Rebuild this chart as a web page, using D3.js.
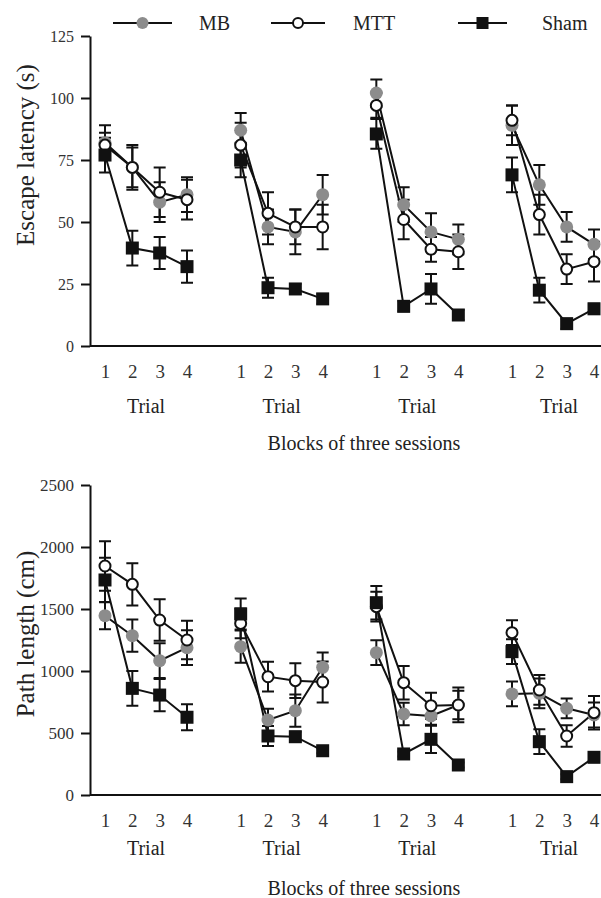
<!DOCTYPE html>
<html>
<head>
<meta charset="utf-8">
<script src="https://cdn.jsdelivr.net/npm/d3@7"></script>
<style>
    body { margin: 0; background: #fff; }
    svg { display: block; }
    svg text { font-family: "Liberation Serif", "Times New Roman", serif; }
    .axis path, .axis line { stroke: #111; stroke-width: 2; }
    .axis text { fill: #333; }
    .conn { fill: none; stroke: #111; stroke-width: 2; }
    .err { stroke: #111; stroke-width: 2; fill: none; }
</style>
</head>
<body>
<svg id="chart" width="601" height="898"></svg>
<script>
(function() {
    'use strict';

    /******************************************************************
        data
     ******************************************************************/
    var blocks = [1, 2, 3, 4],
        trials = [1, 2, 3, 4],
        series = ['MB', 'MTT', 'Sham'],
        latencyTicks = [0, 25, 50, 75, 100, 125],
        pathTicks = [0, 500, 1000, 1500, 2000, 2500];

    var mbLatency      = [[82, 72, 58, 61], [87, 48, 46, 61], [102, 57, 46, 43], [89, 65, 48, 41]],
        mbLatencyErr   = [[7, 9, 8, 7], [7, 7, 9, 8], [5.5, 7, 7.5, 6], [8, 8, 6, 6]],
        mttLatency     = [[81, 72, 62, 59], [81, 53.5, 48, 48], [97, 51, 39, 38], [91, 53, 31, 34]],
        mttLatencyErr  = [[5, 8, 10, 8], [9, 8.5, 7, 9], [5, 8, 5, 7], [6, 8, 6, 8]],
        shamLatency    = [[77, 39.5, 37.5, 32], [75, 23.5, 23, 19], [85.5, 16, 23, 12.5], [69, 22.5, 9, 15]],
        shamLatencyErr = [[7, 7, 6.5, 6.5], [7, 4, 2, 2], [6, 2, 6, 2], [7, 5, 2, 2]];

    var mbPath      = [[1446, 1285, 1083, 1188], [1196, 605, 680, 1030], [1148, 653, 637, 726], [815, 820, 699, 645]],
        mbPathErr   = [[110, 130, 140, 140], [130, 90, 130, 120], [100, 90, 70, 140], [100, 120, 80, 100]],
        mttPath     = [[1847, 1699, 1411, 1250], [1384, 954, 922, 911], [1519, 906, 720, 726], [1309, 847, 476, 664]],
        mttPathErr  = [[200, 170, 167, 156], [120, 120, 140, 165], [120, 135, 105, 115], [100, 120, 86, 135]],
        shamPath    = [[1734, 860, 806, 627], [1460, 476, 470, 357], [1551, 331, 449, 242], [1156, 430, 148, 304]],
        shamPathErr = [[180, 140, 130, 105], [125, 80, 40, 20], [135, 20, 110, 20], [100, 100, 20, 20]];

    var svg = d3.select('#chart');
    var GRAY = '#8c8c8c',
        FONT = '"Liberation Serif", "Times New Roman", serif';

    // x position: block then trial inside the block
    var xBlock = d3.scalePoint().domain(blocks).range([105, 512]);
    var xTrial = d3.scalePoint().domain(trials).range([0, 82]);
    function xPos(b, t) { return xBlock(b) + xTrial(t); }

    function marker(sel, name, size) {
        if (name === 'Sham')
            sel.append('rect')
                .attr('x', -size).attr('y', -size)
                .attr('width', size * 2).attr('height', size * 2)
                .attr('fill', '#111');
        else
            sel.append('circle')
                .attr('r', name === 'MB' ? size : size - 1)
                .attr('fill', name === 'MB' ? GRAY : '#fff')
                .attr('stroke', name === 'MB' ? 'none' : '#111')
                .attr('stroke-width', 2);
    }

    /******************************************************************
        one panel
     ******************************************************************/
    function drawPanel(o) {
        var y = d3.scaleLinear().domain([0, o.ticks[o.ticks.length - 1]]).range([o.bottom, o.top]);
        var g = svg.append('g');

        // y axis
        g.append('g')
            .attr('class', 'axis')
            .attr('transform', 'translate(90,0)')
            .call(d3.axisLeft(y).tickValues(o.ticks).tickFormat(d3.format('d'))
                .tickSize(9).tickPadding(7).tickSizeOuter(0))
            .call(function(s) {
                s.attr('font-family', FONT);
                s.selectAll('text').style('font-size', o.tickFont + 'px');
            });

        // baseline
        g.append('line')
            .attr('x1', 90).attr('x2', 601)
            .attr('y1', y(0)).attr('y2', y(0))
            .attr('stroke', '#111').attr('stroke-width', 2);

        // trial labels under each block
        blocks.forEach(function(b) {
            g.append('g')
                .attr('class', 'axis')
                .attr('transform', 'translate(' + [xBlock(b), y(0)] + ')')
                .call(d3.axisBottom(xTrial).tickSize(0).tickPadding(19))
                .call(function(s) {
                    s.attr('font-family', FONT);
                    s.select('.domain').remove();
                    s.selectAll('text').style('font-size', '19px').attr('fill', '#222');
                });

            g.append('text')
                .attr('x', xBlock(b) + 41 + (b === 4 ? 6 : 0))
                .attr('y', y(0) + o.trialDy)
                .attr('text-anchor', 'middle')
                .style('font-size', '20px')
                .attr('fill', '#222')
                .text('Trial');
        });

        g.append('text')
            .attr('x', 364)
            .attr('y', y(0) + o.blocksDy)
            .attr('text-anchor', 'middle')
            .style('font-size', '20px')
            .attr('fill', '#222')
            .text('Blocks of three sessions');

        g.append('text')
            .attr('transform', 'translate(' + [25, o.labelY] + ') rotate(-90)')
            .attr('dy', '0.35em')
            .attr('text-anchor', 'middle')
            .style('font-size', '25px')
            .attr('fill', '#222')
            .text(o.label);

        var line = d3.line()
            .x(function(d) { return d.x; })
            .y(function(d) { return y(d.v); });

        // connecting lines
        o.data.forEach(function(s) {
            blocks.forEach(function(b, bi) {
                var pts = trials.map(function(t, ti) {
                    return { x: xPos(b, t), v: s.values[bi][ti] };
                });
                g.append('path').attr('class', 'conn').attr('d', line(pts));
            });
        });

        // error bars
        o.data.forEach(function(s) {
            blocks.forEach(function(b, bi) {
                trials.forEach(function(t, ti) {
                    var v = s.values[bi][ti], e = s.err[bi][ti], x = xPos(b, t);
                    var hi = y(v + e), lo = y(Math.max(0, v - e));
                    g.append('path')
                        .attr('class', 'err')
                        .attr('d', 'M' + x + ',' + hi + 'V' + lo +
                            'M' + (x - 6) + ',' + hi + 'H' + (x + 6) +
                            'M' + (x - 6) + ',' + lo + 'H' + (x + 6));
                });
            });
        });

        // markers
        o.data.forEach(function(s) {
            blocks.forEach(function(b, bi) {
                trials.forEach(function(t, ti) {
                    g.append('g')
                        .attr('transform', 'translate(' + [xPos(b, t), y(s.values[bi][ti])] + ')')
                        .call(marker, s.name, 6.5);
                });
            });
        });
    }

    drawPanel({
        top: 36, bottom: 346, ticks: latencyTicks, tickFont: 16,
        label: 'Escape latency (s)', labelY: 155, trialDy: 67, blocksDy: 104,
        data: [
            { name: 'MB', values: mbLatency, err: mbLatencyErr },
            { name: 'MTT', values: mttLatency, err: mttLatencyErr },
            { name: 'Sham', values: shamLatency, err: shamLatencyErr }
        ]
    });

    drawPanel({
        top: 485, bottom: 795, ticks: pathTicks, tickFont: 17,
        label: 'Path length (cm)', labelY: 634, trialDy: 60, blocksDy: 100,
        data: [
            { name: 'MB', values: mbPath, err: mbPathErr },
            { name: 'MTT', values: mttPath, err: mttPathErr },
            { name: 'Sham', values: shamPath, err: shamPathErr }
        ]
    });

    /******************************************************************
        legend
     ******************************************************************/
    var legendX = [[113, 172, 199], [271, 325, 353], [458, 507, 542]];
    var legend = svg.append('g').attr('transform', 'translate(0,23)');
    series.forEach(function(name, i) {
        var p = legendX[i];
        legend.append('line')
            .attr('x1', p[0]).attr('x2', p[1])
            .attr('stroke', '#111').attr('stroke-width', 2);
        legend.append('g')
            .attr('transform', 'translate(' + [(p[0] + p[1]) / 2, 0] + ')')
            .call(marker, name, 6);
        legend.append('text')
            .attr('x', p[2])
            .attr('dy', '0.35em')
            .style('font-size', '20px')
            .attr('fill', '#222')
            .text(name);
    });
})();
</script>
</body>
</html>
